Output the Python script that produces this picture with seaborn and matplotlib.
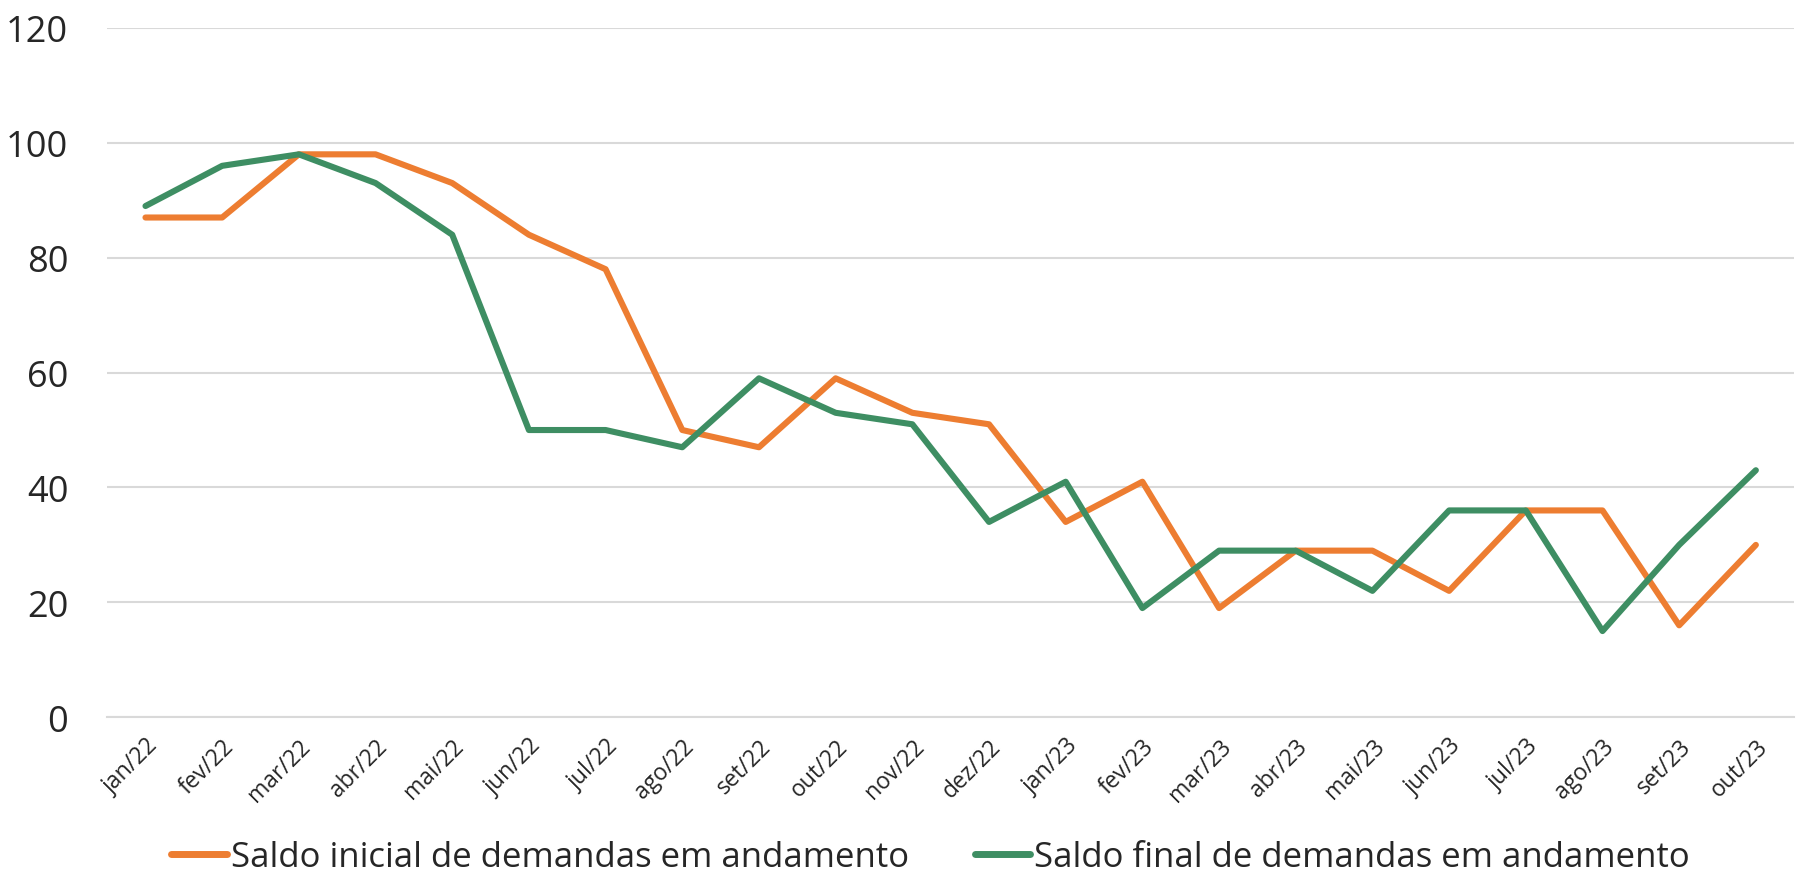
import matplotlib
matplotlib.use("Agg")
import matplotlib.pyplot as plt
import seaborn as sns
import pandas as pd

meses = ["jan/22", "fev/22", "mar/22", "abr/22", "mai/22", "jun/22", "jul/22", "ago/22",
         "set/22", "out/22", "nov/22", "dez/22", "jan/23", "fev/23", "mar/23", "abr/23",
         "mai/23", "jun/23", "jul/23", "ago/23", "set/23", "out/23"]
saldo_inicial = [87, 87, 98, 98, 93, 84, 78, 50, 47, 59, 53, 51, 34, 41, 19, 29, 29, 22, 36, 36, 16, 30]
saldo_final = [89, 96, 98, 93, 84, 50, 50, 47, 59, 53, 51, 34, 41, 19, 29, 29, 22, 36, 36, 15, 30, 43]
serie_inicial = "Saldo inicial de demandas em andamento"
serie_final = "Saldo final de demandas em andamento"
yticks = [0, 20, 40, 60, 80, 100, 120]

df = pd.DataFrame({
    "mes": meses * 2,
    "pos": list(range(len(meses))) * 2,
    "valor": saldo_inicial + saldo_final,
    "serie": [serie_inicial] * len(meses) + [serie_final] * len(meses),
})

sns.set_theme(style="white")
plt.rcParams["font.family"] = ["Open Sans", "DejaVu Sans"]

fig = plt.figure(figsize=(18.16, 8.78), dpi=100)
ax = fig.add_axes([0.059, 0.182, 0.929, 0.785])

sns.lineplot(data=df, x="pos", y="valor", hue="serie",
             palette={serie_inicial: "#ED7D31", serie_final: "#3E8E63"},
             linewidth=4.4, ax=ax, legend=True)
for ln in ax.lines:
    ln.set_solid_joinstyle("round")
    ln.set_solid_capstyle("round")

ax.set_xlim(-0.5, len(meses) - 0.5)
ax.set_ylim(0, 120)
ax.set_yticks(yticks)
ax.set_yticklabels([str(v) for v in yticks], fontsize=26)
ax.yaxis.grid(True, color="#D9D9D9", linewidth=1.5)
ax.set_axisbelow(True)

ax.set_xticks(range(len(meses)))
ax.set_xticklabels(meses, rotation=45, fontsize=16.5, ha="right", rotation_mode="anchor")
ax.tick_params(axis="x", length=0, pad=12)
ax.tick_params(axis="y", length=0, pad=28)
# boundary tick marks (Excel style)
ax.set_xticks([i - 0.5 for i in range(len(meses) + 1)], minor=True)
ax.tick_params(axis="x", which="minor", length=8, color="#D9D9D9", width=1.5)

for s in ["top", "right", "left"]:
    ax.spines[s].set_visible(False)
ax.spines["bottom"].set_color("#D9D9D9")
ax.spines["bottom"].set_linewidth(1.5)
ax.set_xlabel("")
ax.set_ylabel("")

handles, labels = ax.get_legend_handles_labels()
for h in handles:
    h.set_linewidth(5)
ax.legend(handles, labels, loc="center", bbox_to_anchor=(0.488, -0.203),
          ncol=2, frameon=False, fontsize=25, handlelength=1.6, handletextpad=0.1,
          columnspacing=1.9, borderpad=0)

fig.savefig("out.png", dpi=100)
